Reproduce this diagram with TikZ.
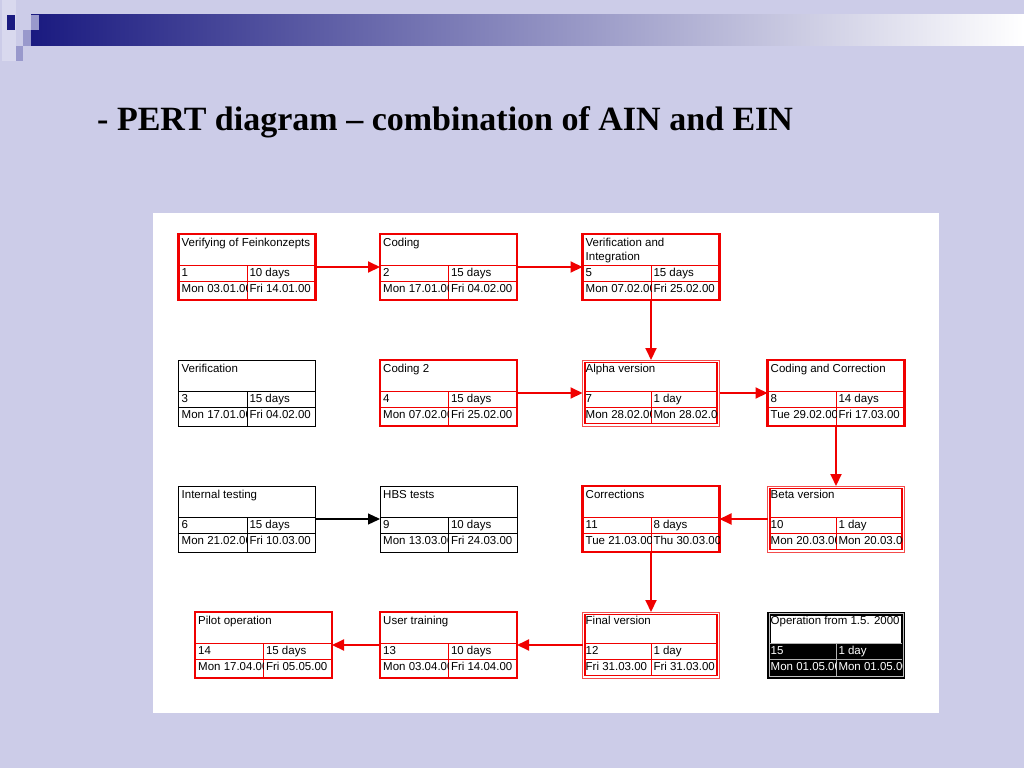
\documentclass[tikz,border=0pt]{standalone}
\usepackage{fontspec}
\setmainfont{Liberation Sans}
\newfontfamily\headfont{Liberation Serif}
\usetikzlibrary{arrows.meta}
\usepackage{xcolor}

\definecolor{slidebg}{RGB}{204,204,232}
\definecolor{slidenavy}{RGB}{26,26,128}
\definecolor{slidelilac}{RGB}{153,153,204}
\definecolor{pertred}{RGB}{240,0,0}

\tikzset{
  cell/.style={inner sep=0pt, font=\fontsize{11.5}{14}\selectfont},
  taskbox/.style={minimum width=137pt, minimum height=66pt, inner sep=0pt, outer sep=0pt},
  crit box/.style={taskbox, draw=pertred, line width=2.5pt},
  mile box/.style={taskbox, draw=pertred!70, line width=0.8pt},
  plain box/.style={taskbox, draw=black, line width=0.8pt},
  dark box/.style={taskbox, draw=black, fill=black, line width=0.8pt},
  crit line/.style={draw=pertred, line width=0.7pt},
  mile line/.style={draw=pertred, line width=0.7pt},
  plain line/.style={draw=black, line width=0.6pt},
  dark line/.style={draw=gray!60, line width=0.8pt},
  crit text/.style={}, mile text/.style={}, plain text/.style={},
  dark text/.style={text=white},
  crit deco/.code={\def\pertin{0}},
  plain deco/.code={\def\pertin{0}},
  mile deco/.code={\def\pertin{2.5}%
    \draw[pertred, line width=1.5pt] (2.5,2.5) rectangle (134.5,63.5);},
  dark deco/.code={\def\pertin{2.5}%
    \draw[white!75!black, line width=0.6pt] (1.4,1.4) rectangle (135.6,64.6);
    \filldraw[fill=white, draw=black, line width=0.8pt] (3,3) rectangle (134,31);},
  crit arrow/.style={draw=pertred, line width=2pt, -{Triangle[length=12pt,width=11pt]}},
  plain arrow/.style={draw=black, line width=1.2pt, -{Triangle[length=12pt,width=11pt]}}
}

% name, position, kind, title, number, duration, start, finish
\newcommand{\pertbox}[8]{%
  \node[#3 box] (#1) at (#2) {};
  \begin{scope}[shift={(#1.north west)}]
    \tikzset{#3 deco}
    \draw[#3 line] (\pertin,31) -- ({137-\pertin},31)
                   (\pertin,47) -- ({137-\pertin},47)
                   (68.5,31) -- (68.5,{66-\pertin});
    \node[cell, anchor=north west, align=left] (#1-title) at (3,2.4) {\strut #4};
    \node[cell, #3 text, anchor=base west] (#1-no) at (3,42.8) {#5};
    \node[cell, #3 text, anchor=base west] (#1-dur) at (70.8,42.8) {#6};
    \begin{scope}
      \clip (0,47) rectangle (68.5,66);
      \node[cell, #3 text, anchor=base west] (#1-start) at (3,58.8) {#7};
    \end{scope}
    \begin{scope}
      \clip (68.5,47) rectangle ({137-\pertin},66);
      \node[cell, #3 text, anchor=base west] (#1-end) at (70.8,58.8) {#8};
    \end{scope}
  \end{scope}}

\begin{document}
\begin{tikzpicture}[x=1pt, y=-1pt]
  \useasboundingbox (0,0) rectangle (1024,768);
  \fill[slidebg] (0,0) rectangle (1024,768);

  % slide header
  \fill[slidebg!75!white] (2,0) rectangle (16,61);
  \shade[left color=slidenavy, middle color={rgb,255:red,168;green,168;blue,188}, right color=white]
    (31,15) rectangle (1024,46);
  \fill[slidenavy] (7,15) rectangle (15,30);
  \fill[slidelilac] (31,15) rectangle (39,30);
  \fill[slidelilac] (23,30) rectangle (31,46);
  \fill[slidelilac] (16,46) rectangle (23,61);
  \node[anchor=base west, inner sep=0pt, font=\headfont\fontsize{34}{40}\selectfont\bfseries]
    (heading) at (97,130.7) {- PERT diagram – combination of AIN and EIN};

  \fill[white] (153,213) rectangle (939,713);

  % row 1
  \pertbox{t1}{247,267}{crit}{Verifying of Feinkonzepts}{1}{10 days}{Mon 03.01.00}{Fri 14.01.00}
  \pertbox{t2}{448.5,267}{crit}{Coding}{2}{15 days}{Mon 17.01.00}{Fri 04.02.00}
  \pertbox{t5}{651,267}{crit}{Verification and\\Integration}{5}{15 days}{Mon 07.02.00}{Fri 25.02.00}
  % row 2
  \pertbox{t3}{247,393}{plain}{Verification}{3}{15 days}{Mon 17.01.00}{Fri 04.02.00}
  \pertbox{t4}{448.5,393}{crit}{Coding 2}{4}{15 days}{Mon 07.02.00}{Fri 25.02.00}
  \pertbox{t7}{651,393}{mile}{Alpha version}{7}{1 day}{Mon 28.02.00}{Mon 28.02.00}
  \pertbox{t8}{836,393}{crit}{Coding and Correction}{8}{14 days}{Tue 29.02.00}{Fri 17.03.00}
  % row 3
  \pertbox{t6}{247,519}{plain}{Internal testing}{6}{15 days}{Mon 21.02.00}{Fri 10.03.00}
  \pertbox{t9}{448.5,519}{plain}{HBS tests}{9}{10 days}{Mon 13.03.00}{Fri 24.03.00}
  \pertbox{t11}{651,519}{crit}{Corrections}{11}{8 days}{Tue 21.03.00}{Thu 30.03.00}
  \pertbox{t10}{836,519}{mile}{Beta version}{10}{1 day}{Mon 20.03.00}{Mon 20.03.00}
  % row 4
  \pertbox{t14}{263.5,645}{crit}{Pilot operation}{14}{15 days}{Mon 17.04.00}{Fri 05.05.00}
  \pertbox{t13}{448.5,645}{crit}{User training}{13}{10 days}{Mon 03.04.00}{Fri 14.04.00}
  \pertbox{t12}{651,645}{mile}{Final version}{12}{1 day}{Fri 31.03.00}{Fri 31.03.00}
  \pertbox{t15}{836,645}{dark}{Operation from 1.5. 2000}{15}{1 day}{Mon 01.05.00}{Mon 01.05.00}

  % dependencies
  \draw[crit arrow] (t1) -- (t2);
  \draw[crit arrow] (t2) -- (t5);
  \draw[crit arrow] (t5) -- (t7);
  \draw[crit arrow] (t4) -- (t7);
  \draw[crit arrow] (t7) -- (t8);
  \draw[crit arrow] (t8) -- (t10);
  \draw[crit arrow] (t10) -- (t11);
  \draw[plain arrow] (t6) -- (t9);
  \draw[crit arrow] (t11) -- (t12);
  \draw[crit arrow] (t12) -- (t13);
  \draw[crit arrow] (t13) -- (t14);
\end{tikzpicture}
\end{document}
